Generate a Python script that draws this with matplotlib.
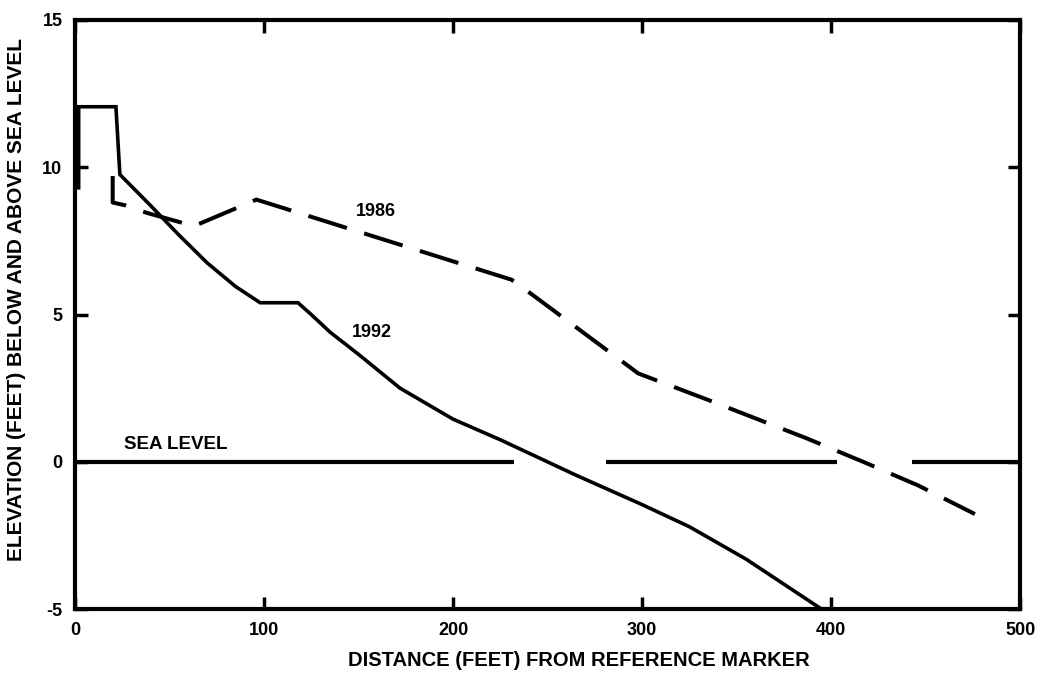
import matplotlib
matplotlib.use('Agg')
import numpy as np
import matplotlib.pyplot as plt

plt.rcParams['font.family'] = ['Liberation Sans Narrow', 'Liberation Sans', 'DejaVu Sans']
plt.rcParams['font.weight'] = 'bold'
plt.rcParams['axes.unicode_minus'] = False

# profile surveyed in 1992 (solid)
x_1992 = [2, 2, 21.7, 23.8, 40, 55, 70, 85, 98, 118, 125, 135, 150, 172, 200, 225, 265, 300, 325, 355, 395]
y_1992 = [9.3, 12.05, 12.05, 9.75, 8.7, 7.7, 6.75, 5.95, 5.4, 5.4, 5.0, 4.4, 3.65, 2.5, 1.45, 0.75, -0.45, -1.45, -2.2, -3.3, -5.0]

# profile surveyed in 1986 (dashed)
x_1986 = [20, 20, 27, 38, 63, 96, 231, 242, 268, 298, 335, 387, 417, 446, 476]
y_1986 = [9.7, 8.8, 8.7, 8.45, 8.0, 8.9, 6.18, 5.67, 4.43, 3.0, 2.1, 0.8, 0.0, -0.8, -1.77]

# sea level reference line (broken where the profiles cross)
sea_x = [0, 232, np.nan, 281, 403, np.nan, 443, 500]
sea_y = [0, 0, np.nan, 0, 0, np.nan, 0, 0]

xticks = [0, 100, 200, 300, 400, 500]
yticks = [-5, 0, 5, 10, 15]

fig = plt.figure(figsize=(10.4, 6.83), dpi=100)
ax = fig.add_axes([0.072, 0.108, 0.909, 0.863])

ax.plot(x_1992, y_1992, color='black', lw=2.6, solid_joinstyle='miter')
ax.plot(x_1986, y_1986, color='black', lw=2.9, linestyle=(0, (10, 4.5)), dash_capstyle='butt')
ax.plot(sea_x, sea_y, color='black', lw=3.0, solid_capstyle='butt')

ax.text(26, 0.45, 'SEA LEVEL', fontsize=13.5, fontweight='bold')
ax.text(159, 8.5, '1986', fontsize=13, fontweight='bold', ha='center', va='center')
ax.text(157, 4.4, '1992', fontsize=13, fontweight='bold', ha='center', va='center')

ax.set_xlim(0, 500)
ax.set_ylim(-5, 15)
ax.set_xticks(xticks)
ax.set_yticks(yticks)
ax.tick_params(direction='in', length=9, width=2.5, labelsize=13, pad=9,
               top=True, right=True)
for lab in ax.get_xticklabels() + ax.get_yticklabels():
    lab.set_fontweight('bold')
for sp in ax.spines.values():
    sp.set_linewidth(3)

ax.set_xlabel('DISTANCE (FEET) FROM REFERENCE MARKER', fontsize=14.5, fontweight='bold', labelpad=9)
ax.set_ylabel('ELEVATION (FEET) BELOW AND ABOVE SEA LEVEL', fontsize=15, fontweight='bold', labelpad=12)
# labels sit a bit off-centre in the original scan
ax.xaxis.label.set_x(0.533)
ax.yaxis.label.set_y(0.525)

fig.savefig('out.png', dpi=100)
